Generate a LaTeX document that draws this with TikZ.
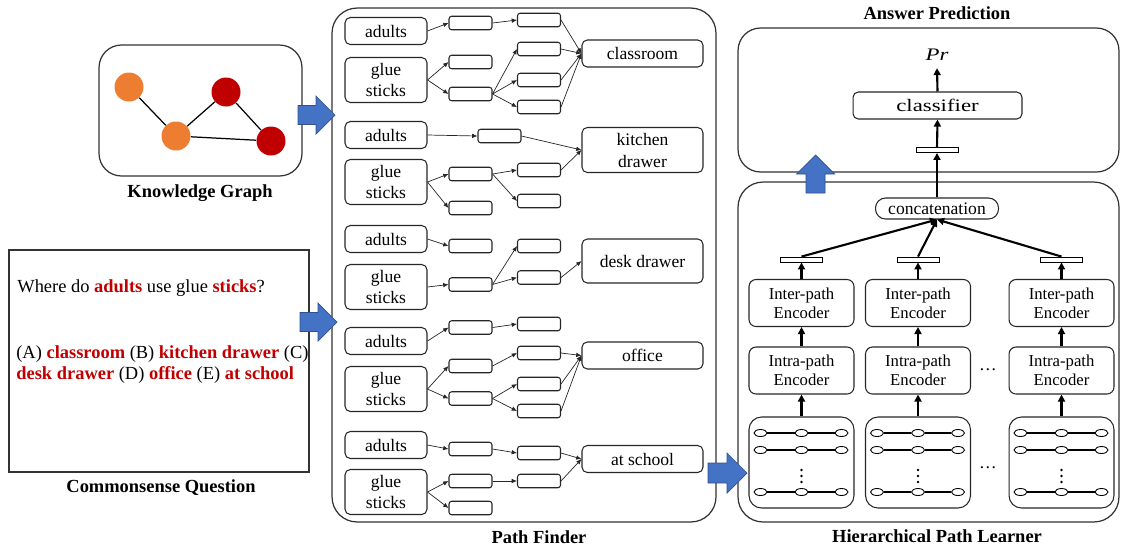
\documentclass[tikz,border=0pt]{standalone}
\usepackage{fontspec}
\setmainfont{Liberation Serif}
\usetikzlibrary{arrows.meta,positioning,shapes.geometric}
\definecolor{kgorange}{HTML}{ED7D31}
\definecolor{kgred}{HTML}{C00000}
\definecolor{flowblue}{HTML}{4472C4}
\definecolor{flowedge}{HTML}{2F528F}
\newcommand{\keyw}[1]{\textcolor{kgred}{\textbf{#1}}}

\begin{document}
\begin{tikzpicture}[x=0.02cm, y=-0.02cm,
    panel/.style={draw=black!80, line width=0.7pt, rounded corners=0.45cm, inner sep=0pt},
    ttl/.style={font=\fontsize{10.5}{12}\selectfont\bfseries},
    word/.style={draw=black!85, line width=0.6pt, rounded corners=3pt, minimum width=1.64cm, minimum height=0.54cm, align=center, inner sep=1pt, font=\fontsize{10}{11.5}\selectfont},
    glue/.style={word, minimum height=0.9cm},
    hop/.style={draw=black!85, line width=0.6pt, rounded corners=1.5pt, minimum width=0.86cm, minimum height=0.27cm, inner sep=0pt},
    ans/.style={word, minimum width=2.42cm, font=\fontsize{10}{12.5}\selectfont},
    arr/.style={-{Latex[length=3pt,width=2.6pt]}, line width=0.4pt, black!85},
    kgnode/.style={circle, minimum size=0.58cm, inner sep=0pt},
    enc/.style={draw=black!85, line width=0.6pt, rounded corners=4pt, minimum width=2.1cm, minimum height=0.94cm, align=center, inner sep=1pt, font=\fontsize{9.5}{11}\selectfont},
    pbox/.style={draw=black!85, line width=0.6pt, rounded corners=0.25cm, minimum width=2.1cm, minimum height=1.82cm},
    ell/.style={draw, ellipse, line width=0.5pt, minimum width=0.26cm, minimum height=0.14cm, inner sep=0pt},
    link/.style={line width=1.1pt},
    bar/.style={draw, line width=0.5pt, minimum width=0.84cm, minimum height=0.1cm, inner sep=0pt},
    barr/.style={-{Triangle[length=4pt,width=4pt]}, line width=1.2pt},
    block/.style={fill=flowblue, draw=flowedge, line width=0.4pt}
]
\useasboundingbox (0,0) rectangle (1121,549);

\node[panel, minimum width=4.06cm, minimum height=2.62cm] (kgbox) at (200.5,110.5) {};
\node[draw=black!80, line width=0.7pt, minimum width=6cm, minimum height=4.44cm] (qbox) at (159,361) {};
\node[panel, rounded corners=0.5cm, minimum width=7.68cm, minimum height=10.28cm] (pfbox) at (524,265) {};
\node[panel, minimum width=7.62cm, minimum height=2.88cm] (apbox) at (928.5,100) {};
\node[panel, rounded corners=0.5cm, minimum width=7.62cm, minimum height=6.8cm] (hplbox) at (928.5,352) {};

\node[ttl] (kgt) at (200,193) {Knowledge Graph};
\node[ttl] (qt) at (161,488) {Commonsense Question};
\node[ttl] (pft) at (539,537) {Path Finder};
\node[ttl] (apt) at (937,13) {Answer Prediction};
\node[ttl] (hplt) at (937,536) {Hierarchical Path Learner};

\node[kgnode, fill=kgorange] (o1) at (129,87) {};
\node[kgnode, fill=kgorange] (o2) at (176,136) {};
\node[kgnode, fill=kgred] (r1) at (226,92) {};
\node[kgnode, fill=kgred] (r2) at (271,141) {};
\draw[line width=0.7pt] (o1) -- (o2);
\draw[line width=0.7pt] (o2) -- (r1);
\draw[line width=0.7pt] (r1) -- (r2);
\draw[line width=0.7pt] (o2) -- (r2);

\node[anchor=west, inner sep=0pt, font=\fontsize{10.5}{12.5}\selectfont] (qtext) at (17,288) {Where do \keyw{adults} use glue \keyw{sticks}?};
\node[anchor=west, align=left, inner sep=0pt, font=\fontsize{10.5}{12}\selectfont] (qopts) at (16,364.5) {(A) \keyw{classroom} (B) \keyw{kitchen drawer} (C)\\\keyw{desk drawer} (D) \keyw{office} (E) \keyw{at school}};

\node[word] (ad1) at (386,31) {adults};
\node[glue] (gs1) at (386,80) {glue\\sticks};
\node[word] (ad2) at (386,135) {adults};
\node[glue] (gs2) at (386,182) {glue\\sticks};
\node[word] (ad3) at (386,239) {adults};
\node[glue] (gs3) at (386,287) {glue\\sticks};
\node[word] (ad4) at (386,341) {adults};
\node[glue] (gs4) at (386,389) {glue\\sticks};
\node[word] (ad5) at (386,445) {adults};
\node[glue] (gs5) at (386,492) {glue\\sticks};

\node[ans] (cls) at (642.5,53.5) {classroom};
\node[ans, minimum height=0.9cm] (kit) at (642.5,150) {kitchen\\drawer};
\node[ans, minimum height=0.88cm] (dsk) at (642.5,261) {desk drawer};
\node[ans] (off) at (642.5,355.5) {office};
\node[ans] (sch) at (642.5,459) {at school};

\node[hop] (p1a) at (470.5,23) {};
\node[hop] (p1b) at (470.5,62) {};
\node[hop] (p1c) at (470.5,94) {};
\node[hop] (q1a) at (539,20) {};
\node[hop] (q1b) at (539,49) {};
\node[hop] (q1c) at (539,80) {};
\node[hop] (q1d) at (539,107) {};
\node[hop] (p2a) at (499.5,136) {};
\node[hop] (p2b) at (470.5,174) {};
\node[hop] (p2c) at (470.5,208) {};
\node[hop] (q2a) at (539,170) {};
\node[hop] (q2b) at (539,201) {};
\node[hop] (p3a) at (470.5,246) {};
\node[hop] (p3b) at (470.5,284.5) {};
\node[hop] (q3a) at (539,246) {};
\node[hop] (q3b) at (539,277.5) {};
\node[hop] (p4a) at (470.5,327.5) {};
\node[hop] (p4b) at (470.5,366) {};
\node[hop] (p4c) at (470.5,398.5) {};
\node[hop] (q4a) at (539,324) {};
\node[hop] (q4b) at (539,353) {};
\node[hop] (q4c) at (539,384) {};
\node[hop] (q4d) at (539,411) {};
\node[hop] (p5a) at (470.5,449) {};
\node[hop] (p5b) at (470.5,481) {};
\node[hop] (p5c) at (470.5,508) {};
\node[hop] (q5a) at (539,453) {};
\node[hop] (q5b) at (539,481) {};

\foreach \a/\b in {ad1/p1a, p1a/q1a, q1a/cls, gs1/p1b, gs1/p1c, p1c/q1b, p1c/q1c, p1c/q1d, q1b/cls, q1c/cls, q1d/cls,
    ad2/p2a, p2a/kit, gs2/p2b, gs2/p2c, p2b/q2a, p2b/q2b, q2a/kit,
    ad3/p3a, gs3/p3b, p3b/q3a, p3b/q3b, q3b/dsk,
    ad4/p4a, p4a/q4a, gs4/p4b, gs4/p4c, p4b/q4b, p4c/q4c, p4c/q4d, q4b/off, q4c/off, q4d/off,
    ad5/p5a, p5a/q5a, q5a/sch, gs5/p5b, gs5/p5c, p5b/q5b, q5b/sch}
    \draw[arr] (\a.east) -- (\b.west);

\foreach \i/\x in {1/801.5, 2/918, 3/1061.5} {
    \node[pbox] (pb\i) at (\x,462.5) {};
    \node[enc] (intra\i) at (\x,370.5) {Intra-path\\Encoder};
    \node[enc] (inter\i) at (\x,303) {Inter-path\\Encoder};
    \node[bar] (bar\i) at (\x,259.5) {};
    \foreach \r/\y in {1/433, 2/450, 3/492} {
        \node[ell] (e\i-\r-1) at (\x-41,\y) {};
        \node[ell] (e\i-\r-2) at (\x,\y) {};
        \node[ell] (e\i-\r-3) at (\x+40,\y) {};
        \draw[link] (e\i-\r-1) -- (e\i-\r-2);
        \draw[link] (e\i-\r-2) -- (e\i-\r-3);
    }
    \foreach \d in {-6,0,6}
        \fill (\x,476+\d) circle (0.8pt);
    \draw[barr] (pb\i.north) -- (intra\i.south);
    \draw[barr] (intra\i.north) -- (inter\i.south);
    \draw[barr] (inter\i.north) -- (bar\i.south);
}
\node[font=\fontsize{10}{12}\selectfont] (dotsa) at (988,370) {…};
\node[font=\fontsize{10}{12}\selectfont] (dotsb) at (988,468) {…};

\node[draw=black!85, line width=0.6pt, rounded corners=0.2cm, minimum width=2.46cm, minimum height=0.42cm, inner sep=1pt, font=\fontsize{10}{12}\selectfont] (cat) at (937,208.5) {concatenation};
\node[bar] (tbar) at (937,150) {};
\node[word, minimum width=3.38cm] (clf) at (937.5,105.5) {\scalebox{1.3}[1]{classifier}};
\node[inner sep=4pt, font=\fontsize{10}{12}\selectfont] (pr) at (937,55) {\scalebox{1.3}[1]{\textit{Pr}}};

\foreach \i in {1,2,3}
    \draw[barr] (bar\i.north) -- (cat.south);
\draw[barr] (cat.north) -- (tbar.south);
\draw[barr] (tbar.north) -- (clf.south);
\draw[barr] (clf.north) -- (pr.south);

\coordinate (kgout) at (298,115);
\coordinate (qout) at (300,322);
\coordinate (pfout) at (708,473);
\coordinate (hplout) at (815.5,193);
\draw[block] (kgout) -- ++(0,-9.5) -- ++(18,0) -- ++(0,-9.5) -- ++(19,19) -- ++(-19,19) -- ++(0,-9.5) -- ++(-18,0) -- cycle;
\draw[block] (qout) -- ++(0,-9.5) -- ++(18,0) -- ++(0,-9.5) -- ++(19,19) -- ++(-19,19) -- ++(0,-9.5) -- ++(-18,0) -- cycle;
\draw[block] (pfout) -- ++(0,-10) -- ++(19,0) -- ++(0,-10) -- ++(20,20) -- ++(-20,20) -- ++(0,-10) -- ++(-19,0) -- cycle;
\draw[block] (hplout) -- ++(-9.5,0) -- ++(0,-19) -- ++(-9.5,0) -- ++(19,-19) -- ++(19,19) -- ++(-9.5,0) -- ++(0,19) -- cycle;
\end{tikzpicture}
\end{document}
